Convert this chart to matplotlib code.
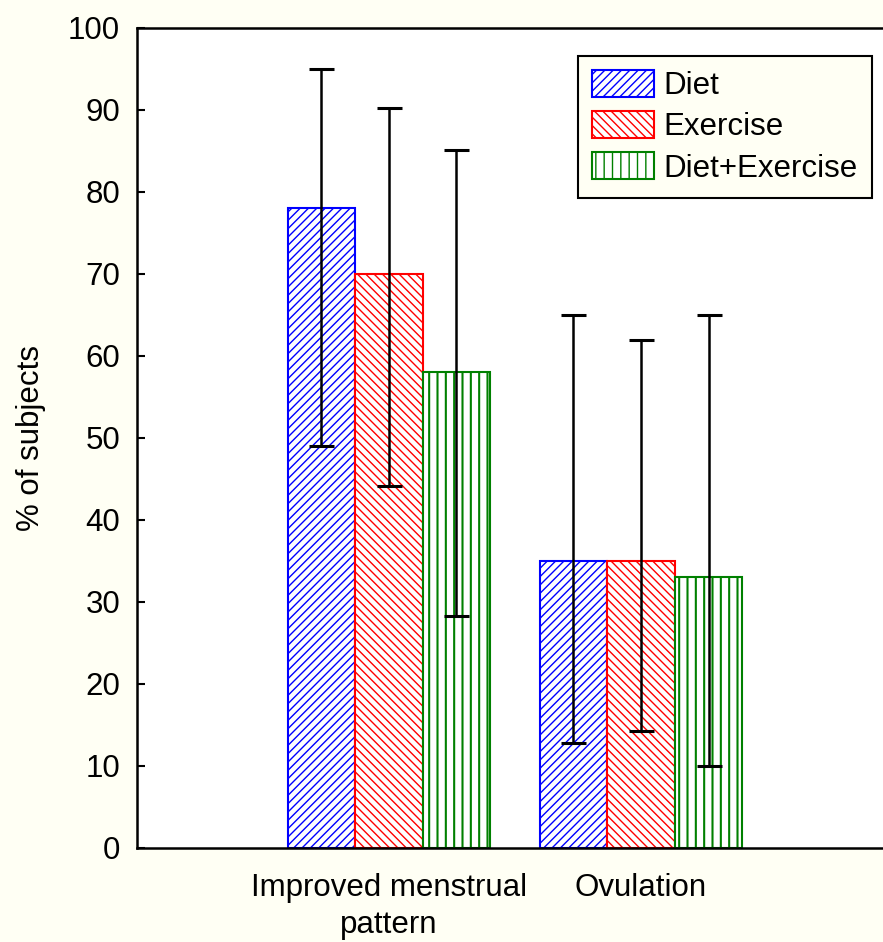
import matplotlib
matplotlib.use("Agg")
import matplotlib.pyplot as plt
import numpy as np

plt.rcParams['font.family'] = ['Liberation Sans Narrow', 'Liberation Sans', 'DejaVu Sans']
plt.rcParams['hatch.linewidth'] = 1.0

categories = ["Improved menstrual\npattern", "Ovulation"]
series = ["Diet", "Exercise", "Diet+Exercise"]
values = {
    "Diet": [78, 35],
    "Exercise": [70, 35],
    "Diet+Exercise": [58, 33],
}
err_low = {
    "Diet": [49, 12.8],
    "Exercise": [44.1, 14.3],
    "Diet+Exercise": [28.3, 10],
}
err_high = {
    "Diet": [95, 65],
    "Exercise": [90.2, 62],
    "Diet+Exercise": [85.1, 65],
}
colors = {"Diet": "#0000ff", "Exercise": "#ff0000", "Diet+Exercise": "#008000"}
hatches = {"Diet": "////", "Exercise": "\\\\\\\\", "Diet+Exercise": "||"}
hatch_lw = {"Diet": 1.0, "Exercise": 1.0, "Diet+Exercise": 1.5}

bg = "#fffff4"
fs = 22.5
fig = plt.figure(figsize=(8.83, 9.42), dpi=100, facecolor=bg)
ax = fig.add_axes([0.155, 0.0998, 0.845, 0.8705])
ax.set_facecolor("white")

x = np.arange(len(categories))
w = 0.268
for i, s in enumerate(series):
    pos = x + (i - 1) * w
    vals = np.array(values[s])
    bars = ax.bar(pos, vals, width=w, facecolor="white", edgecolor=colors[s],
                  hatch=hatches[s], linewidth=1.5, label=s, zorder=2)
    for b in bars:
        if hasattr(b, "set_hatch_linewidth"):
            b.set_hatch_linewidth(hatch_lw[s])
    lo = vals - np.array(err_low[s])
    hi = np.array(err_high[s]) - vals
    ax.errorbar(pos, vals, yerr=[lo, hi], fmt="none", ecolor="black",
                elinewidth=1.8, capsize=9, capthick=2.2, zorder=3)

ax.set_xlim(-1.0, 1.96)
ax.set_ylim(0, 100)
ax.set_yticks(np.arange(0, 101, 10))
ax.set_xticks(x)
ax.set_xticklabels(categories, linespacing=1.3)
ax.tick_params(axis="both", direction="in", length=6, width=1.5, labelsize=fs)
ax.tick_params(axis="y", pad=12)
ax.tick_params(axis="x", length=4, pad=18)
for sp in ["left", "bottom", "top"]:
    ax.spines[sp].set_linewidth(1.8)
ax.spines["right"].set_visible(False)
ax.set_ylabel("% of subjects", fontsize=fs, labelpad=16)

leg = ax.legend(loc="upper right", bbox_to_anchor=(0.985, 0.966), fontsize=fs,
                frameon=True, fancybox=False, edgecolor="black", facecolor=bg,
                framealpha=1, handlelength=2.0, handleheight=0.95,
                handletextpad=0.3, borderpad=0.45, labelspacing=0.32,
                borderaxespad=0)
leg.get_frame().set_linewidth(1.5)

fig.savefig("out.png", dpi=100, facecolor=bg)
